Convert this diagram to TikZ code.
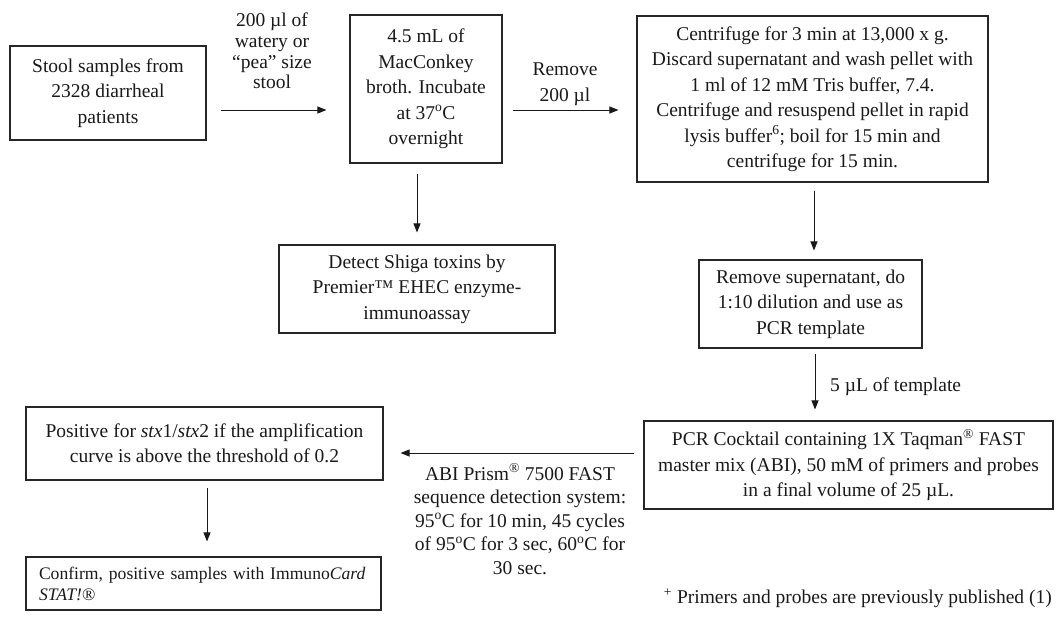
\documentclass[tikz,border=0pt]{standalone}
\usepackage{fontspec}
\setmainfont{Liberation Serif}
\usetikzlibrary{arrows.meta}
\newcommand{\dg}{\textsuperscript{o}}
\begin{document}
\begin{tikzpicture}[x=1pt,y=-1pt,
  box/.style={draw=black!85, line width=1.1pt, inner sep=0pt, align=center, text=black!90,
    font=\fontsize{19.5pt}{25.5pt}\selectfont},
  lab/.style={inner sep=0pt, align=center, text=black!90, font=\fontsize{19.5pt}{25.5pt}\selectfont},
  arr/.style={draw=black!90, line width=1pt, -{Triangle[length=9pt,width=7pt]}}]
\useasboundingbox (0,0) rectangle (1056,622);

\node[box, minimum width=196pt, minimum height=94pt] (b1) at (108,93)
  {Stool samples from\\2328 diarrheal\\patients};
\node[box, minimum width=152pt, minimum height=148pt] (b2) at (426,89)
  {4.5 mL of\\MacConkey\\broth. Incubate\\at 37\dg C\\overnight};
\node[box, minimum width=351pt, minimum height=166pt] (b3) at (812.5,99)
  {Centrifuge for 3 min at 13,000 x g.\\Discard supernatant and wash pellet with\\1 ml of 12 mM Tris buffer, 7.4.\\Centrifuge and resuspend pellet in rapid\\lysis buffer\textsuperscript{6}; boil for 15 min and\\centrifuge for 15 min.};
\node[box, minimum width=276pt, minimum height=88pt] (b4) at (417,289)
  {Detect Shiga toxins by\\Premier™ EHEC enzyme-\\immunoassay};
\node[box, minimum width=223pt, minimum height=88pt] (b5) at (810.5,304)
  {Remove supernatant, do\\1:10 dilution and use as\\PCR template};
\node[box, minimum width=409pt, minimum height=88pt] (b6) at (848.5,465)
  {PCR Cocktail containing 1X Taqman\textsuperscript{®} FAST\\master mix (ABI), 50 mM of primers and probes\\in a final volume of 25 µL.};
\node[box, minimum width=357pt, minimum height=73pt] (b7) at (204.5,443.5)
  {Positive for \textit{stx}1/\textit{stx}2 if the amplification\\curve is above the threshold of 0.2};
\node[box, align=left, inner xsep=13pt, text width=329pt, minimum height=53pt,
  font=\fontsize{17.6pt}{21pt}\selectfont] (b8) at (203.5,583.5)
  {\mbox{Confirm, positive samples with Immuno\textit{Card}}\\\mbox{\textit{STAT!}®}};

\node[lab, font=\fontsize{19.5pt}{20.7pt}\selectfont] (l1) at (272,51)
  {200 µl of\\watery or\\“pea” size\\stool};
\node[lab, font=\fontsize{19.5pt}{26pt}\selectfont] (l2) at (565,84) {Remove\\200 µl};
\node[lab, anchor=west] (l3) at (830,387) {5 µL of template};
\node[lab, font=\fontsize{19.5pt}{23.5pt}\selectfont] (l4) at (520,519)
  {ABI Prism\textsuperscript{®} 7500 FAST\\sequence detection system:\\95\dg C for 10 min, 45 cycles\\of 95\dg C for 3 sec, 60\dg C for\\30 sec.};
\node[lab, anchor=east] (fn) at (1052,598)
  {\textsuperscript{+} Primers and probes are previously published (1)};

\coordinate (ya) at (0,110);
\coordinate (yb) at (0,453);
\draw[arr, shorten <=14pt, shorten >=23pt] (b1.east |- ya) -- (b2.west |- ya);
\draw[arr, shorten <=10pt, shorten >=18pt] (b2.east |- ya) -- (b3.west |- ya);
\draw[arr, shorten <=10pt, shorten >=12pt] (b4.north |- b2.south) -- (b4.north);
\draw[arr, shorten <=8pt, shorten >=9pt] ([xshift=1.5pt]b3.south) -- ([xshift=1.5pt]b3.south |- b5.north);
\draw[arr, shorten <=5pt, shorten >=11pt] ([xshift=4.5pt]b5.south) -- ([xshift=4.5pt]b5.south |- b6.north);
\draw[arr, shorten <=9pt, shorten >=17pt] (b6.west |- yb) -- (b7.east |- yb);
\draw[arr, shorten <=7pt, shorten >=15pt] ([xshift=2.5pt]b7.south) -- ([xshift=2.5pt]b7.south |- b8.north);
\end{tikzpicture}
\end{document}
